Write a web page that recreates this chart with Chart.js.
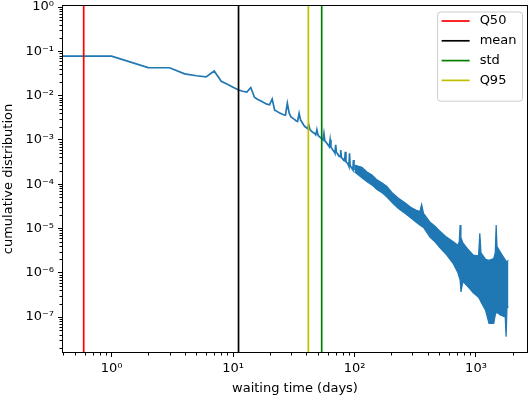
<!DOCTYPE html>
<html>
<head>
<meta charset="utf-8">
<script src="https://cdn.jsdelivr.net/npm/chart.js@4.4.0/dist/chart.umd.min.js"></script>
<style>
  html, body { margin: 0; padding: 0; background: #fff; }
</style>
</head>
<body>
<canvas id="chart" width="532" height="399"></canvas>
<script>
// waiting time in days; day 0 can't sit on a log axis so it is put on the left edge (matplotlib clips it there)
var days = [0.39, 1, 2, 3, 4, 5, 6, 7, 8, 9, 10,
    11, 12, 13, 14, 15, 16, 17, 18, 19, 20,
    21, 22, 23, 24, 25, 26, 27, 28, 29, 30,
    31, 32, 33, 34, 35, 36, 37, 38, 39, 40,
    41, 42, 43, 44, 45, 46, 47, 48, 49, 50,
    51, 52, 53, 54, 55, 56, 57, 58, 59, 60,
    61, 62, 63, 64, 65, 66, 67, 68, 69, 70,
    71, 72, 73, 74, 75, 76, 77, 78, 79, 80,
    81, 82, 83, 84, 85, 86, 87, 88, 89, 90,
    91, 92, 93, 94, 95, 96, 97, 98, 99, 100];
var cumDist = [0.078, 0.078, 0.043, 0.0425, 0.031, 0.028, 0.0265, 0.036, 0.021, 0.018, 0.0155,
    0.0135, 0.0125, 0.012, 0.0152, 0.0092, 0.0082, 0.0075, 0.0069, 0.0064, 0.0062,
    0.0084, 0.0047, 0.0044, 0.0041, 0.0039, 0.0037, 0.0036, 0.0067, 0.0040, 0.0033,
    0.0031, 0.0029, 0.0027, 0.0026, 0.0040, 0.0028, 0.0025, 0.0022, 0.0020, 0.0019,
    0.0018, 0.0022, 0.0017, 0.0016, 0.0015, 0.00145, 0.0014, 0.0013, 0.0017, 0.0013,
    0.0012, 0.00115, 0.0011, 0.00105, 0.0010, 0.0014, 0.00095, 0.0009, 0.00085, 0.0008,
    0.00075, 0.0007, 0.0010, 0.00068, 0.00065, 0.0006, 0.00057, 0.00054, 0.0005, 0.00077,
    0.00052, 0.0005, 0.00047, 0.00045, 0.00043, 0.00042, 0.00059, 0.0004, 0.00039, 0.00037,
    0.00036, 0.00035, 0.00034, 0.00054, 0.00033, 0.00031, 0.0003, 0.00029, 0.00027, 0.00025,
    0.0005, 0.00026, 0.00025, 0.00024, 0.00023, 0.00022, 0.00021, 0.00035, 0.00022, 0.00021];

var noisyDays = [100, 115, 126, 140, 153, 170, 185, 205, 230, 260, 290, 320, 345, 357, 370,
    419, 460, 500, 575, 650, 710, 728, 740, 752, 780, 850, 950, 1050, 1075, 1100,
    1200, 1280, 1400, 1440, 1466, 1490, 1600, 1740, 1770, 1800, 1850];
var noisyUpper = [2.7e-4, 2.4e-4, 1.9e-4, 1.6e-4, 1.25e-4, 1.05e-4, 8.9e-5, 6.3e-5, 4.8e-5, 3.8e-5, 3.0e-5, 2.6e-5, 2.4e-5, 3.5e-5, 2.2e-5,
    1.38e-5, 1.12e-5, 8.9e-6, 6.3e-6, 5.0e-6, 4.2e-6, 5.0e-6, 1.2e-5, 6.3e-6, 4.7e-6, 3.5e-6, 2.5e-6, 2.4e-6, 7.8e-6, 2.8e-6,
    2.0e-6, 1.9e-6, 2.1e-6, 2.8e-6, 1.2e-5, 3.9e-6, 2.8e-6, 1.95e-6, 1.8e-6, 1.8e-6, 1.9e-6];
var noisyLower = [1.9e-4, 1.4e-4, 1.15e-4, 9.5e-5, 7.6e-5, 6.3e-5, 5.1e-5, 3.8e-5, 2.8e-5, 2.2e-5, 1.74e-5, 1.4e-5, 1.2e-5, 1.12e-5, 1.05e-5,
    6.3e-6, 5.0e-6, 3.8e-6, 2.5e-6, 1.6e-6, 1.0e-6, 7.9e-7, 6.9e-7, 3.7e-7, 6.3e-7, 5.0e-7, 3.5e-7, 2.8e-7, 2.5e-7, 2.2e-7,
    1.4e-7, 7.2e-8, 7.2e-8, 1.1e-7, 1.26e-7, 1.26e-7, 1.1e-7, 1.0e-7, 3.6e-8, 1.6e-7, 1.7e-7];

// summary statistics drawn as vertical lines
var markerLabels = ['Q50', 'mean', 'std', 'Q95'];
var markerValues = [0.59, 11.1, 53.7, 41.7];
var markerColors = ['#ff0000', '#000000', '#008000', '#bfbf00'];

// axes
var xMin = 0.391, xMax = 2680;
var yMin = 1.54e-8, yMax = 1.11;
var xTickValues = [1, 10, 100, 1000];
var xTickLabels = ['10⁰', '10¹', '10²', '10³'];
var yTickValues = [1e-7, 1e-6, 1e-5, 1e-4, 1e-3, 1e-2, 1e-1, 1];
var yTickLabels = ['10⁻⁷', '10⁻⁶', '10⁻⁵', '10⁻⁴', '10⁻³', '10⁻²', '10⁻¹', '10⁰'];

var blue = '#1f77b4';
var fontFamily = "'DejaVu Sans', sans-serif";

function points(xs, ys) {
    return xs.map(function (x, i) { return {x: x, y: ys[i]}; });
}

// major ticks at the decades, minor ones at 2..9 in between (like matplotlib)
function logTicks(majors, min, max) {
    var ticks = [];
    var decades = [majors[0] / 10].concat(majors);
    decades.forEach(function (d) {
        if (majors.indexOf(d) >= 0) ticks.push({value: d, major: true});
        for (var m = 2; m <= 9; m++) {
            var v = m * d;
            if (v > min && v < max) ticks.push({value: v, major: false});
        }
    });
    return ticks;
}

var datasets = [];

// vertical lines first so they end up on top of the blue curve
markerValues.forEach(function (v, i) {
    datasets.push({
        label: markerLabels[i],
        data: [{x: v, y: yMin}, {x: v, y: yMax}],
        borderColor: markerColors[i],
        borderWidth: 1.7,
        pointRadius: 0,
        inLegend: true
    });
});

datasets.push({
    label: 'cumulative',
    data: points(days, cumDist),
    borderColor: blue,
    borderWidth: 1.7,
    pointRadius: 0
});
datasets.push({
    label: 'upper',
    data: points(noisyDays, noisyUpper),
    borderColor: blue,
    borderWidth: 1.2,
    pointRadius: 0
});
datasets.push({
    label: 'lower',
    data: points(noisyDays, noisyLower),
    borderColor: blue,
    borderWidth: 1.2,
    backgroundColor: blue,
    pointRadius: 0,
    fill: '-1'
});

// frame on all four sides, short minor ticks and a matplotlib-like legend box
var mplExtras = {
    id: 'mplExtras',
    afterDraw: function (chart) {
        var ctx = chart.ctx;
        var area = chart.chartArea;
        var xs = chart.scales.x, ys = chart.scales.y;

        ctx.save();
        ctx.strokeStyle = '#000';
        ctx.lineWidth = 1;
        ctx.beginPath();
        xs.ticks.forEach(function (t) {
            if (t.major) return;
            var px = Math.round(xs.getPixelForValue(t.value)) + 0.5;
            ctx.moveTo(px, area.bottom);
            ctx.lineTo(px, area.bottom + 2.5);
        });
        ys.ticks.forEach(function (t) {
            if (t.major) return;
            var py = Math.round(ys.getPixelForValue(t.value)) + 0.5;
            ctx.moveTo(area.left, py);
            ctx.lineTo(area.left - 2.5, py);
        });
        ctx.stroke();

        ctx.strokeRect(Math.round(area.left) + 0.5, Math.round(area.top) + 0.5,
            Math.round(area.right - area.left) - 1, Math.round(area.bottom - area.top) - 1);

        // legend
        var items = chart.data.datasets.filter(function (d) { return d.inLegend; });
        ctx.font = '13px ' + fontFamily;
        var textW = 0;
        items.forEach(function (d) { textW = Math.max(textW, ctx.measureText(d.label).width); });
        var boxW = 4 + 28 + 10 + textW + 6;
        var rowH = 19.8;
        var boxH = 10 + rowH * items.length;
        var boxR = area.right - 5.5;
        var boxL = boxR - boxW;
        var boxT = area.top + 7;

        ctx.beginPath();
        ctx.roundRect(boxL, boxT, boxW, boxH, 3);
        ctx.fillStyle = 'rgba(255,255,255,0.8)';
        ctx.fill();
        ctx.strokeStyle = '#cccccc';
        ctx.lineWidth = 1;
        ctx.stroke();

        ctx.textBaseline = 'middle';
        ctx.textAlign = 'left';
        items.forEach(function (d, i) {
            var y = boxT + 9 + i * rowH;
            ctx.beginPath();
            ctx.strokeStyle = d.borderColor;
            ctx.lineWidth = 1.7;
            ctx.moveTo(boxL + 4, y);
            ctx.lineTo(boxL + 32, y);
            ctx.stroke();
            ctx.fillStyle = '#000';
            ctx.fillText(d.label, boxL + 42, y);
        });
        ctx.restore();
    }
};

var ctx = document.getElementById('chart').getContext('2d');
var myChart = new Chart(ctx, {
    type: 'line',
    data: {datasets: datasets},
    plugins: [mplExtras],
    options: {
        responsive: false,
        animation: false,
        devicePixelRatio: 1,
        parsing: true,
        elements: {line: {tension: 0}},
        layout: {padding: {top: 5, right: 4, left: 0, bottom: 0}},
        plugins: {
            legend: {display: false},
            tooltip: {enabled: false}
        },
        scales: {
            x: {
                type: 'logarithmic',
                min: xMin,
                max: xMax,
                afterBuildTicks: function (scale) { scale.ticks = logTicks(xTickValues, xMin, xMax); },
                afterFit: function (scale) {
                    scale.height = 46;
                    scale.paddingLeft = 0;
                    scale.paddingRight = 0;
                },
                grid: {
                    drawOnChartArea: false,
                    tickLength: 4,
                    tickColor: function (c) { return c.tick && c.tick.major ? '#000' : 'rgba(0,0,0,0)'; }
                },
                border: {display: false},
                ticks: {
                    autoSkip: false,
                    maxRotation: 0,
                    padding: 4,
                    color: '#000',
                    font: {family: fontFamily, size: 13},
                    callback: function (value) {
                        var i = xTickValues.indexOf(value);
                        return i >= 0 ? xTickLabels[i] : '';
                    }
                },
                title: {
                    display: true,
                    text: 'waiting time (days)',
                    color: '#000',
                    font: {family: fontFamily, size: 13},
                    padding: {top: 0, bottom: 3}
                }
            },
            y: {
                type: 'logarithmic',
                min: yMin,
                max: yMax,
                afterBuildTicks: function (scale) { scale.ticks = logTicks(yTickValues, yMin, yMax); },
                afterFit: function (scale) {
                    scale.width = 62;
                    scale.paddingTop = 0;
                    scale.paddingBottom = 0;
                },
                grid: {
                    drawOnChartArea: false,
                    tickLength: 4,
                    tickColor: function (c) { return c.tick && c.tick.major ? '#000' : 'rgba(0,0,0,0)'; }
                },
                border: {display: false},
                ticks: {
                    autoSkip: false,
                    padding: 4,
                    color: '#000',
                    font: {family: fontFamily, size: 13},
                    callback: function (value) {
                        var i = yTickValues.indexOf(value);
                        return i >= 0 ? yTickLabels[i] : '';
                    }
                },
                title: {
                    display: true,
                    text: 'cumulative distribution',
                    color: '#000',
                    font: {family: fontFamily, size: 13},
                    padding: {top: 1, bottom: 0}
                }
            }
        }
    }
});
</script>
</body>
</html>
